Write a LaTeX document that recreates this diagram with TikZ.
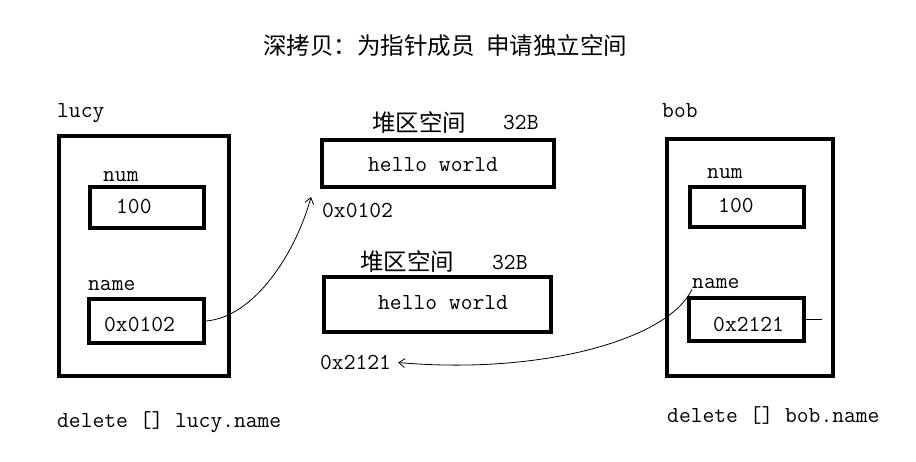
\documentclass[tikz,border=0pt]{standalone}
\usepackage{fontspec}
\newfontfamily\cjkFont{Noto Sans CJK SC}
\usetikzlibrary{arrows.meta}

\begin{document}
\begin{tikzpicture}[x=1pt,y=-1pt,%%
  boxStyle/.style={draw,line width=4pt,inner sep=0pt},%%
  textStyle/.style={inner sep=0pt,anchor=west,font=\fontsize{22.9}{28}\selectfont\ttfamily},%%
  cjkStyle/.style={textStyle,font=\fontsize{23.5}{28}\selectfont\cjkFont},%%
  linkStyle/.style={line width=0.8pt,-{Straight Barb[length=6pt,width=9pt]}}
]
%%
%%
\pgfmathsetmacro{\pageWidth}{916}
\pgfmathsetmacro{\pageHeight}{461}
\useasboundingbox (0,0) rectangle (\pageWidth,\pageHeight);
%%
%% The title.
%%
\node[cjkStyle] (title) at (263,45.5) {深拷贝：为指针成员\hspace{0.5em}申请独立空间};
%%
%% The object lucy.
%%
\node[textStyle] (lucyLbl) at (57,113) {lucy};
\node[boxStyle,minimum width=170pt,minimum height=240pt] (lucy) at (144,256) {};
%% Its member num.
\node[textStyle] (lucyNumLbl) at (103,177) {num};
\node[boxStyle,minimum width=114pt,minimum height=41pt] (lucyNum) at (147,207.5) {};
\node[textStyle] (lucyNumVal) at (116,206.5) {100};
%% Its member name.
\node[textStyle] (lucyNameLbl) at (88,286) {name};
\node[boxStyle,minimum width=115pt,minimum height=44pt] (lucyName) at (146.5,321) {};
\node[textStyle] (lucyNameVal) at (104,324.5) {0x0102};
\node[textStyle] (lucyDelete) at (57,422) {delete [] lucy.name};
%%
%% The two blocks on the heap.
%%
\node[cjkStyle] (heapALbl) at (372,123) {堆区空间};
\node[textStyle] (heapASize) at (503,123) {32B};
\node[boxStyle,minimum width=232pt,minimum height=47pt] (heapA) at (438,163.5) {};
\node[textStyle] (heapAVal) at (368,165) {hello world};
\node[textStyle] (addrA) at (322,210.5) {0x0102};
%%
\node[cjkStyle] (heapBLbl) at (360,262) {堆区空间};
\node[textStyle] (heapBSize) at (492,262) {32B};
\node[boxStyle,minimum width=227pt,minimum height=55pt] (heapB) at (437.5,304.5) {};
\node[textStyle] (heapBVal) at (378,302.5) {hello world};
\node[textStyle] (addrB) at (320,362.5) {0x2121};
%%
%% The object bob.
%%
\node[textStyle] (bobLbl) at (662,110.5) {bob};
\node[boxStyle,minimum width=166pt,minimum height=237pt] (bob) at (750,257.5) {};
%% Its member num.
\node[textStyle] (bobNumLbl) at (707,174) {num};
\node[boxStyle,minimum width=114pt,minimum height=40pt] (bobNum) at (747,207) {};
\node[textStyle] (bobNumVal) at (718,205) {100};
%% Its member name.
\node[textStyle] (bobNameLbl) at (692,284) {name};
\node[boxStyle,minimum width=115pt,minimum height=43pt] (bobName) at (746.5,319.5) {};
\node[textStyle] (bobNameVal) at (713,324.5) {0x2121};
\node[textStyle] (bobDelete) at (667,415.5) {delete [] bob.name};
\draw[line width=0.8pt] (bobName.east) -- ++(16,0);
%%
%% The pointers into the heap.
%%
\draw[linkStyle] (lucyName.east) .. controls (255,317) and (296,252) .. ([xshift=-11pt,yshift=6pt]addrA.north west);
\draw[linkStyle] (bobNameLbl.south west) .. controls (668,340) and (540,375) .. ([xshift=7pt]addrB.east);
\end{tikzpicture}
\end{document}
